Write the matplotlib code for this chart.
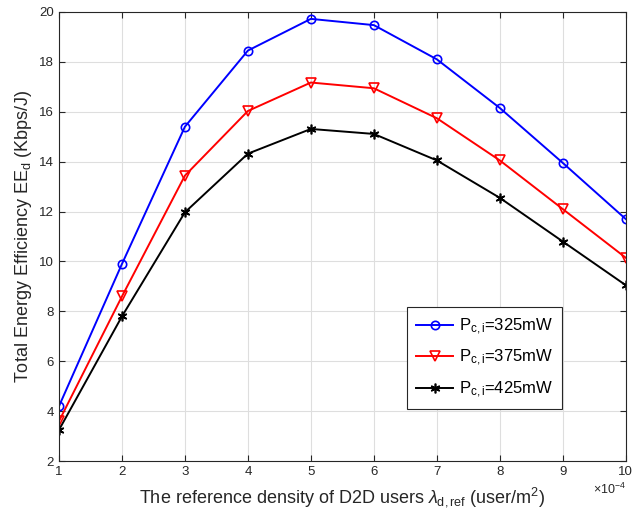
import matplotlib
matplotlib.use("Agg")
import matplotlib.pyplot as plt
import numpy as np

plt.rcParams['font.family'] = ['Liberation Sans', 'DejaVu Sans']
plt.rcParams['mathtext.fontset'] = 'custom'
plt.rcParams['mathtext.rm'] = 'Liberation Sans'
plt.rcParams['mathtext.it'] = 'Liberation Sans:italic'
plt.rcParams['mathtext.default'] = 'regular'

# reference density of D2D users, in units of 1e-4 user/m^2
density = np.arange(1, 11)
ee_325 = [4.2, 9.9, 15.4, 18.45, 19.72, 19.47, 18.1, 16.15, 13.95, 11.7]
ee_375 = [3.6, 8.6, 13.44, 16.03, 17.17, 16.94, 15.74, 14.05, 12.1, 10.15]
ee_425 = [3.25, 7.8, 11.97, 14.32, 15.31, 15.11, 14.05, 12.55, 10.8, 9.05]
labels = ['P$_{c,i}$=325mW', 'P$_{c,i}$=375mW', 'P$_{c,i}$=425mW']

fig = plt.figure(figsize=(6.34, 5.17), dpi=100)
ax = fig.add_axes([0.093, 0.108, 0.894, 0.869])

ax.plot(density, ee_325, color='#0000ff', marker='o', markersize=6, markerfacecolor='none',
        markeredgewidth=1.2, linewidth=1.4, label=labels[0])
ax.plot(density, ee_375, color='#ff0000', marker='v', markersize=7, markerfacecolor='none',
        markeredgewidth=1.2, linewidth=1.4, label=labels[1])
ax.plot(density, ee_425, color='black', marker=(6, 2, 0), markersize=7,
        markeredgewidth=1.2, linewidth=1.4, label=labels[2])

ax.set_xlim(1, 10)
ax.set_ylim(2, 20)
ax.set_xticks(density)
ax.set_yticks(np.arange(2, 21, 2))
ax.text(1.0, -0.045, '$\\times$10$^{-4}$', transform=ax.transAxes, ha='right', va='top',
        fontsize=9, color='#262626')

ax.grid(True, color='#dedede', linewidth=0.8)
ax.set_axisbelow(True)
ax.tick_params(direction='in', top=True, right=True, labelsize=9.5, colors='#262626', length=4)
for s in ax.spines.values():
    s.set_color('#262626')
    s.set_linewidth(0.8)

ax.set_xlabel('The reference density of D2D users $\\mathit{\\lambda}_{d,ref}$ (user/m$^2$)',
              fontsize=13, color='#262626', labelpad=5)
ax.set_ylabel('Total Energy Efficiency EE$_d$ (Kbps/J)', fontsize=13, color='#262626')

leg = ax.legend(loc='lower right', bbox_to_anchor=(0.888, 0.116), fontsize=12,
                fancybox=False, framealpha=1, edgecolor='#262626', handlelength=2.2,
                handletextpad=0.35, borderpad=0.55, labelspacing=0.68, borderaxespad=0)
leg.get_frame().set_linewidth(0.8)

fig.savefig('out.png', dpi=100)
